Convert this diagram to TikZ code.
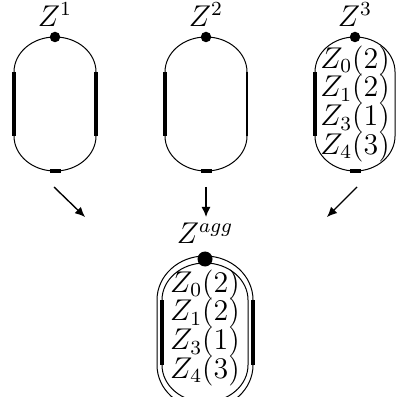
\documentclass[tikz,border=0pt]{standalone}
\usepackage{tikz}
\usetikzlibrary{arrows.meta,positioning,calc}
\usepackage{amsmath}

\begin{document}
\begin{tikzpicture}[
  x=0.4pt, y=0.4pt,
  rim/.style={line width=0.4pt},
  bar/.style={line width=1.3pt},
  halfbar/.style={line width=0.8pt},
  dot/.style={circle, fill, inner sep=0pt, minimum size=4.2pt},
  bigdot/.style={circle, fill, inner sep=0pt, minimum size=6pt},
  lbl/.style={inner sep=0pt, font=\large},
  terms/.style={inner sep=0pt, align=center, font={\fontsize{12}{11.5}\selectfont\lineskiplimit=-20pt}},
  arr/.style={-{Latex[length=4pt,width=3.6pt]}, line width=0.55pt}
]
\useasboundingbox (0,0) rectangle (396,-397);
% the three single ovals
\foreach \cx/\w in {55/41, 206/41, 355/40} {
  \draw[rim] (\cx-\w,-72) arc[start angle=180, end angle=0, x radius=\w, y radius=35]
    -- (\cx+\w,-136) arc[start angle=0, end angle=-180, x radius=\w, y radius=35] -- cycle;
  \draw[bar] (\cx-\w,-72) -- (\cx-\w,-136);
  \draw[bar] (\cx-5.5,-171) -- (\cx+5.5,-171);
}
\draw[bar] (96,-72) -- (96,-136);
\draw[halfbar] (247,-72) -- (247,-136);
\node[dot] (d1) at (55,-37) {};
\node[dot] (d2) at (206,-37) {};
\node[dot] (d3) at (355,-37) {};
\node[lbl, above=1.6pt of d1] (z1) {$Z^1$};
\node[lbl, above=1.6pt of d2] (z2) {$Z^2$};
\node[lbl, above=1.6pt of d3] (z3) {$Z^3$};
\node[terms, below=1pt of d3] (l3) {$Z_0(2)$\\$Z_1(2)$\\$Z_3(1)$\\$Z_4(3)$};
% aggregated oval (double rim)
\draw[rim] (162,-300) arc[start angle=180, end angle=0, x radius=43, y radius=37]
  -- (248,-365) arc[start angle=0, end angle=-180, x radius=43, y radius=37] -- cycle;
\draw[rim] (157,-300) arc[start angle=180, end angle=0, x radius=48, y radius=44]
  -- (253,-365) arc[start angle=0, end angle=-180, x radius=48, y radius=44] -- cycle;
\draw[bar] (162,-300) -- (162,-365);
\draw[bar] (253,-300) -- (253,-365);
\node[bigdot] (dagg) at (205,-259) {};
\node[lbl, above=2.8pt of dagg] (zagg) {$Z^{agg}$};
\node[terms, below=0.8pt of dagg] (lagg) {$Z_0(2)$\\$Z_1(2)$\\$Z_3(1)$\\$Z_4(3)$};
% arrows into the aggregate
\coordinate (t1) at (54,-187);
\coordinate (h1) at (85,-217);
\coordinate (t2) at (206,-187);
\coordinate (h2) at (206,-217);
\coordinate (t3) at (357,-187);
\coordinate (h3) at (327,-217);
\draw[arr] (t1) -- (h1);
\draw[arr] (t2) -- (h2);
\draw[arr] (t3) -- (h3);
\end{tikzpicture}
\end{document}
